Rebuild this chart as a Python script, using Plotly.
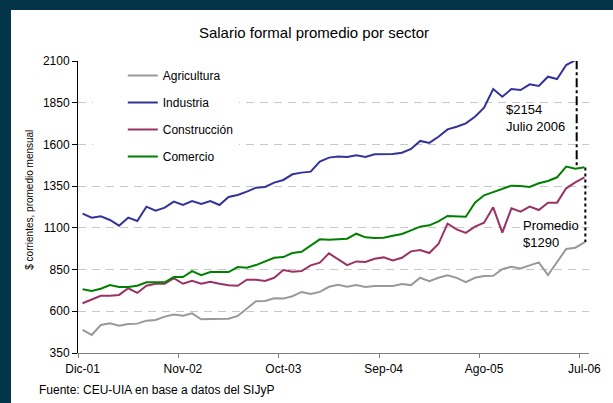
import plotly.graph_objects as go

# ---- data (monthly, Dic-01 .. Jul-06) ----
months = list(range(56))
tick_positions = [0, 11, 22, 33, 44, 55]
tick_labels = ["Dic-01", "Nov-02", "Oct-03", "Sep-04", "Ago-05", "Jul-06"]

agricultura = [488, 458, 518, 528, 514, 524, 526, 544, 548, 568,
               580, 574, 588, 552, 554, 554, 556, 572, 614, 660,
               662, 678, 676, 690, 716, 704, 716, 747, 759, 747,
               757, 745, 751, 751, 751, 763, 757, 801, 781, 801,
               816, 800, 774, 801, 811, 813, 853, 867, 857, 875,
               893, 817, 897, 973, 981, 1013]

industria = [1185, 1161, 1169, 1147, 1113, 1161, 1141, 1227, 1203, 1221,
             1257, 1237, 1261, 1243, 1261, 1237, 1285, 1297, 1317, 1341,
             1345, 1371, 1387, 1421, 1431, 1437, 1497, 1521, 1527, 1525,
             1535, 1525, 1541, 1541, 1543, 1550, 1573, 1621, 1609, 1646,
             1690, 1706, 1726, 1766, 1820, 1932, 1886, 1932, 1926, 1960,
             1950, 2006, 1992, 2076, 2105, 2154]

construccion = [648, 672, 693, 693, 698, 738, 710, 753, 765, 765,
                799, 765, 783, 765, 777, 765, 756, 753, 789, 789,
                782, 801, 847, 837, 841, 875, 891, 947, 913, 877,
                899, 895, 915, 923, 905, 921, 959, 967, 949, 1003,
                1125, 1091, 1070, 1107, 1131, 1223, 1071, 1217, 1197, 1227,
                1207, 1251, 1251, 1337, 1372, 1403]

comercio = [732, 722, 735, 757, 745, 745, 753, 774, 774, 774,
            805, 805, 841, 817, 835, 833, 835, 865, 861, 877,
            901, 921, 925, 949, 957, 993, 1031, 1029, 1033, 1035,
            1065, 1043, 1039, 1041, 1053, 1063, 1085, 1107, 1115, 1139,
            1171, 1171, 1167, 1251, 1295, 1314, 1332, 1353, 1351, 1345,
            1367, 1381, 1403, 1467, 1455, 1463]

series_names = ["Agricultura", "Industria", "Construcción", "Comercio"]
series_values = [agricultura, industria, construccion, comercio]
series_colors = ["#999999", "#333399", "#993366", "#008000"]

FONT = "Arial, Liberation Sans, sans-serif"

fig = go.Figure()
for i, (name, vals, col) in enumerate(zip(series_names, series_values, series_colors)):
    fig.add_trace(go.Scatter(
        x=months, y=vals, name=name, mode="lines",
        line=dict(color=col, width=2),
        legendgroup=f"g{i}",
    ))

W, H = 613, 403
ml, mr, mt, mb = 78, 16.5, 61, 50

fig.update_layout(
    width=W, height=H, autosize=False,
    margin=dict(l=ml, r=mr, t=mt, b=mb, pad=0),
    paper_bgcolor="white", plot_bgcolor="white",
    font=dict(family=FONT, size=12, color="#000000"),
    title=dict(text="Salario formal promedio por sector", x=314 / W, xanchor="center",
               y=1 - 33 / H, yanchor="middle", xref="container", yref="container",
               font=dict(family=FONT, size=15, color="#000000")),
    showlegend=True,
    legend=dict(x=(93 - ml) / (W - ml - mr), y=(H - mb - 61) / (H - mt - mb),
                xanchor="left", yanchor="top", bgcolor="white", borderwidth=0,
                traceorder="grouped", tracegroupgap=8, indentation=30,
                font=dict(family=FONT, size=12, color="#000000")),
    xaxis=dict(range=[-0.5, 55.5], tickmode="array", tickvals=tick_positions,
               ticktext=tick_labels, ticks="", showgrid=False, zeroline=False,
               showline=True, linecolor="#808080", linewidth=1,
               ticklabelstandoff=5,
               tickfont=dict(family=FONT, size=12, color="#000000"),
               minor=dict(ticks="outside", tick0=-0.5, dtick=11, ticklen=4,
                          tickcolor="#808080", tickwidth=1, showgrid=False)),
    yaxis=dict(range=[350, 2100], tick0=350, dtick=250, ticks="outside", ticklen=5,
               tickcolor="#000000", showline=True, linecolor="#000000", linewidth=1,
               showgrid=True, gridcolor="#c8c8c8", griddash="8px,6px", gridwidth=1,
               zeroline=False,
               tickfont=dict(family=FONT, size=12, color="#000000")),
)

plot_w = W - ml - mr
plot_h = H - mt - mb

# dark slide frame (left and top bands)
frame = "#033448"
fig.add_shape(type="rect", xref="paper", yref="paper",
              x0=-0.3, x1=(10 - ml) / plot_w, y0=-0.3, y1=1.4,
              fillcolor=frame, line=dict(width=0))
fig.add_shape(type="rect", xref="paper", yref="paper",
              x0=-0.3, x1=1.3, y0=(H - mb - 10) / plot_h, y1=1.4,
              fillcolor=frame, line=dict(width=0))

# callout lines
fig.add_shape(type="line", xref="x", yref="y", x0=54.15, x1=54.15, y0=2105, y1=1462,
              line=dict(color="black", width=2, dash="dashdot"))
fig.add_shape(type="line", xref="x", yref="y", x0=55.1, x1=55.1, y0=1462, y1=1013,
              line=dict(color="black", width=2, dash="dot"))

# annotations
fig.add_annotation(x=46.2, y=1761, xref="x", yref="y", text="$2154<br>Julio 2006",
                   showarrow=False, xanchor="left", yanchor="middle", align="left",
                   font=dict(family=FONT, size=13, color="#000000"))
fig.add_annotation(x=48.0, y=1061, xref="x", yref="y", text="Promedio<br>$1290",
                   showarrow=False, xanchor="left", yanchor="middle", align="left",
                   font=dict(family=FONT, size=13, color="#000000"))
fig.add_annotation(x=(28 - ml) / plot_w, y=(H - mb - 200) / plot_h, xref="paper", yref="paper",
                   text="$ corrientes, promedio mensual", textangle=-90, showarrow=False,
                   xanchor="center", yanchor="middle",
                   font=dict(family=FONT, size=10, color="#000000"))
fig.add_annotation(x=(36 - ml) / plot_w, y=(H - mb - 390) / plot_h, xref="paper", yref="paper",
                   text="Fuente: CEU-UIA en base a datos del SIJyP", showarrow=False,
                   xanchor="left", yanchor="middle",
                   font=dict(family=FONT, size=12, color="#000000"))

fig.write_html("out.html", config={"displayModeBar": False},
               post_script="document.body.style.margin='0px';document.body.style.overflow='hidden';")
